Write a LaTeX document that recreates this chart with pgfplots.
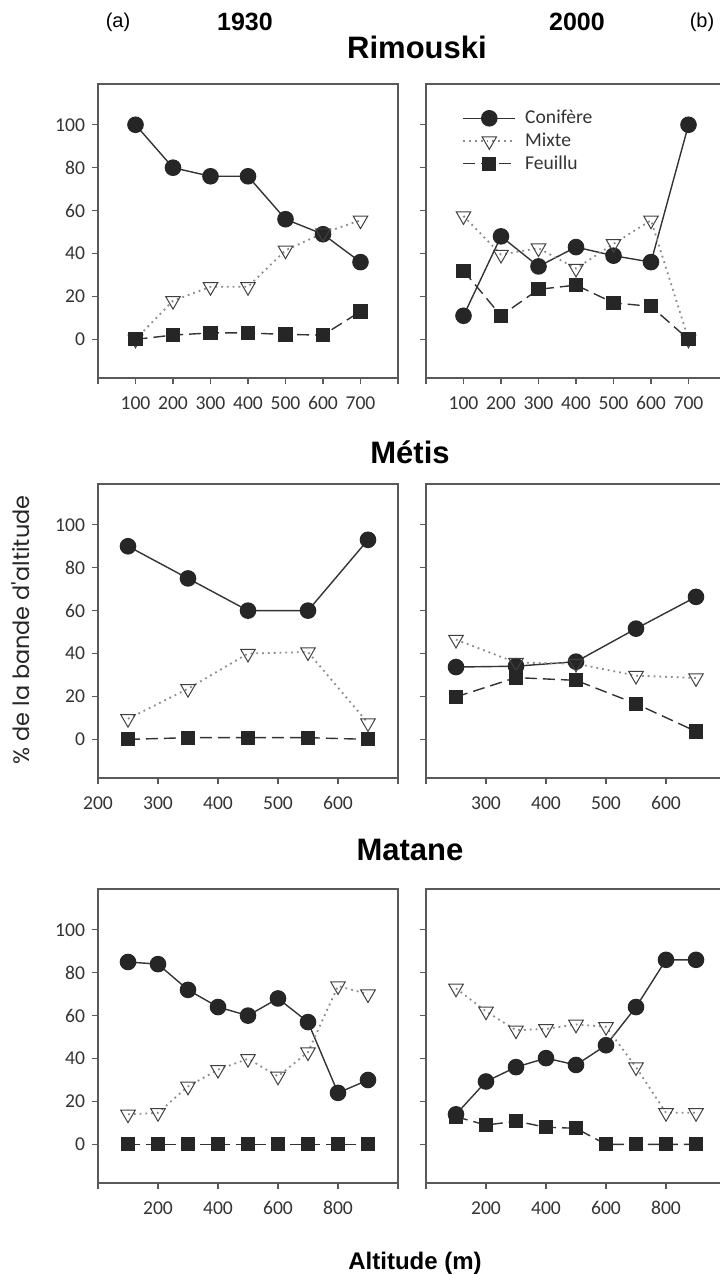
\documentclass[border=0pt]{standalone}
\usepackage{fontspec}
\setmainfont{Carlito}
\newfontfamily\titlefont{Liberation Sans}
\newfontfamily\ylabfont{Poppins}
\usepackage{pgfplots}
\pgfplotsset{compat=1.18}

\pgfplotsset{
  panel/.style={
    scale only axis, width=150pt, height=147pt,
    ymin=-18, ymax=119, ytick={0,20,...,100},
    tick align=outside, xtick pos=bottom, ytick pos=left,
    major tick length=3pt,
    axis line style={black!65, line width=0.6pt},
    tick style={black!65, line width=0.6pt},
    ticklabel style={font=\fontsize{9.8}{10}\selectfont, text=black!80},
    xticklabel style={text height=1.5ex, text depth=0pt, yshift=-2pt},
    /pgf/number format/assume math mode=true,
    clip=false,
    legend image code/.code={\draw[mark repeat=2,mark phase=2] plot coordinates {(0pt,0pt)(13pt,0pt)(26pt,0pt)};},
  },
  noy/.style={yticklabels={,,,,,,}},
  con/.style={black!80, line width=0.7pt, mark=*, mark size=3.8pt,
    mark options={solid, fill=black!85, draw=black!85}},
  mix/.style={black!45, line width=0.9pt, dotted, mark=triangle, mark size=4.2pt,
    mark options={solid, rotate=180, fill=white, draw=black!75, line width=0.5pt}},
  feu/.style={black!80, line width=0.7pt, dash pattern=on 6pt off 3pt, mark=square*, mark size=3.2pt,
    mark options={solid, fill=black!85, draw=black!85}},
}

\begin{document}
\begin{tikzpicture}
\path[use as bounding box] (0,0) rectangle (359.5pt,-637pt);

% headings
\node[font=\titlefont\fontsize{10}{12}\selectfont] at (59pt,-11pt) {(a)};
\node[font=\titlefont\bfseries\fontsize{12.5}{14}\selectfont] at (122.5pt,-11pt) {1930};
\node[font=\titlefont\bfseries\fontsize{12.5}{14}\selectfont] at (288.5pt,-11pt) {2000};
\node[font=\titlefont\fontsize{10}{12}\selectfont] at (351pt,-11pt) {(b)};
\node[font=\titlefont\bfseries\fontsize{15.5}{18}\selectfont] at (208.5pt,-23.5pt) {Rimouski};
\node[font=\titlefont\bfseries\fontsize{15.5}{18}\selectfont] at (205pt,-226pt) {Métis};
\node[font=\titlefont\bfseries\fontsize{15.5}{18}\selectfont] at (205pt,-425pt) {Matane};
\node[font=\titlefont\bfseries\fontsize{12}{14}\selectfont] at (207.5pt,-631.5pt) {Altitude (m)};
\node[font=\ylabfont\fontsize{11.2}{13}\selectfont, rotate=90, text=black!85] at (10.5pt,-315pt) {\% de la bande d'altitude};

% Rimouski 1930
\begin{axis}[panel, at={(49pt,-42pt)}, anchor=north west,
  xmin=0, xmax=800, xtick={0,100,...,800}, xticklabels={,100,200,300,400,500,600,700,}]
\addplot[con] coordinates {(100,100) (200,80) (300,76) (400,76) (500,56) (600,49) (700,36)};
\addplot[mix] coordinates {(100,0) (200,18) (300,24.5) (400,24.5) (500,41.5) (600,49.5) (700,55.5)};
\addplot[feu] coordinates {(100,0) (200,2) (300,3) (400,3) (500,2.3) (600,2) (700,13)};
\end{axis}

% Rimouski 2000
\begin{axis}[panel, noy, at={(213pt,-42pt)}, anchor=north west,
  xmin=0, xmax=800, xtick={0,100,...,800}, xticklabels={,100,200,300,400,500,600,700,},
  legend style={at={(axis description cs:0.1,0.94)}, anchor=north west, draw=none, fill=none,
    font=\fontsize{9.8}{10}\selectfont, text=black!80, row sep=-0.9pt},
  legend cell align=left]
\addplot[con] coordinates {(100,11) (200,48) (300,34) (400,43) (500,39) (600,36) (700,100)};
\addlegendentry{\hspace{2.5pt}Conifère}
\addplot[mix] coordinates {(100,57.5) (200,39.5) (300,42.5) (400,33) (500,44.5) (600,55.5) (700,0)};
\addlegendentry{\hspace{2.5pt}Mixte}
\addplot[feu] coordinates {(100,32) (200,11) (300,23.3) (400,25.3) (500,17) (600,15.4) (700,0)};
\addlegendentry{\hspace{2.5pt}Feuillu}
\end{axis}

% Metis 1930
\begin{axis}[panel, at={(49pt,-242pt)}, anchor=north west,
  xmin=200, xmax=700, xtick={200,300,...,700}, xticklabels={200,300,400,500,600,}]
\addplot[con] coordinates {(250,90) (350,75) (450,60) (550,60) (650,93)};
\addplot[mix] coordinates {(250,9.6) (350,23.6) (450,40) (550,40.7) (650,7.6)};
\addplot[feu] coordinates {(250,0) (350,0.8) (450,0.8) (550,0.8) (650,0)};
\end{axis}

% Metis 2000
\begin{axis}[panel, noy, at={(213pt,-242pt)}, anchor=north west,
  xmin=200, xmax=700, xtick={200,300,...,700}, xticklabels={,300,400,500,600,}]
\addplot[con] coordinates {(250,33.7) (350,34.1) (450,36.2) (550,51.6) (650,66.4)};
\addplot[mix] coordinates {(250,46.5) (350,35.8) (450,35.3) (550,29.7) (650,28.6)};
\addplot[feu] coordinates {(250,19.8) (350,28.8) (450,27.5) (550,16.6) (650,3.7)};
\end{axis}

% Matane 1930
\begin{axis}[panel, at={(49pt,-444.5pt)}, anchor=north west,
  xmin=0, xmax=1000, xtick={0,200,...,1000}, xticklabels={,200,400,600,800,}]
\addplot[con] coordinates {(100,85) (200,84) (300,72) (400,64) (500,60) (600,68) (700,57) (800,24) (900,30)};
\addplot[mix] coordinates {(100,14) (200,14.7) (300,27) (400,34.8) (500,39.9) (600,31.7) (700,43) (800,73.8) (900,70)};
\addplot[feu] coordinates {(100,0) (200,0) (300,0) (400,0) (500,0) (600,0) (700,0) (800,0) (900,0)};
\end{axis}

% Matane 2000
\begin{axis}[panel, noy, at={(213pt,-444.5pt)}, anchor=north west,
  xmin=0, xmax=1000, xtick={0,200,...,1000}, xticklabels={,200,400,600,800,}]
\addplot[con] coordinates {(100,14) (200,29.3) (300,36) (400,40.2) (500,37) (600,46.2) (700,64) (800,86) (900,86)};
\addplot[mix] coordinates {(100,72.7) (200,62) (300,53.2) (400,53.8) (500,55.9) (600,54.8) (700,36) (800,14.7) (900,14.7)};
\addplot[feu] coordinates {(100,12.9) (200,9) (300,10.8) (400,8) (500,7.5) (600,0) (700,0) (800,0) (900,0)};
\end{axis}
\end{tikzpicture}
\end{document}
